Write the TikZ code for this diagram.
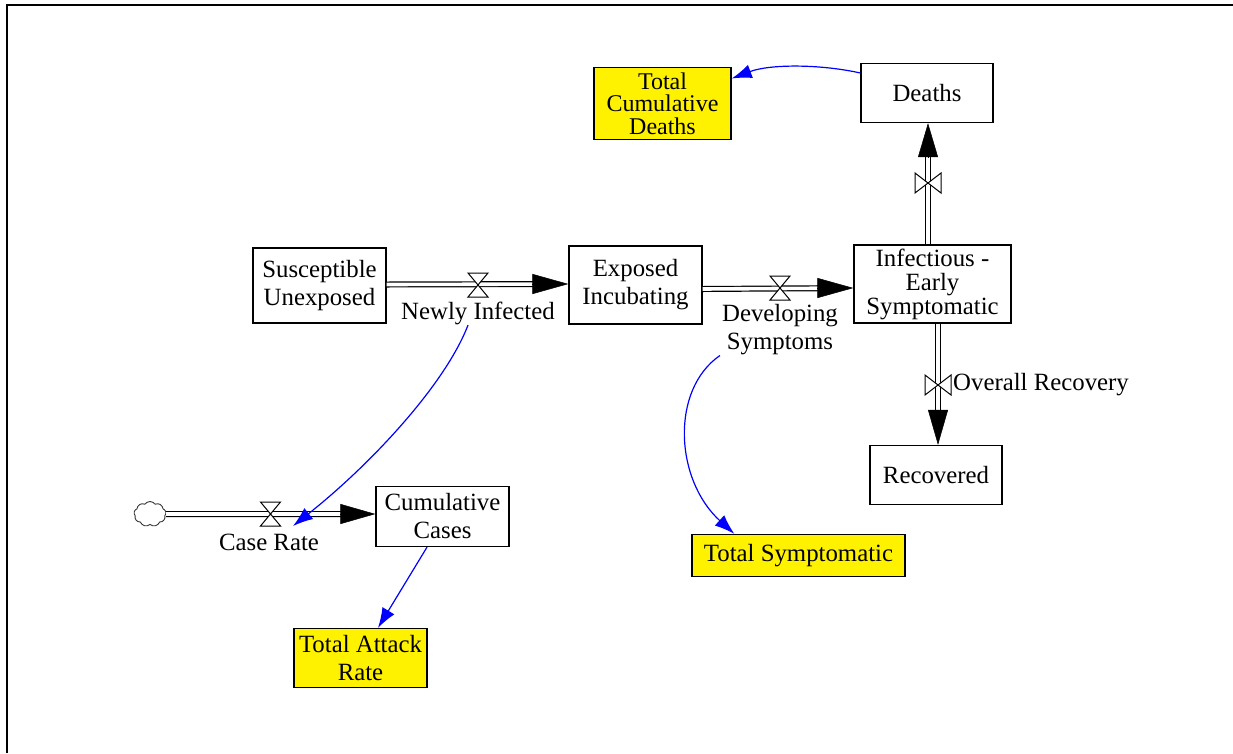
\documentclass[tikz,border=0pt]{standalone}
\usepackage{fontspec}
\setmainfont{Liberation Serif}
\usetikzlibrary{arrows.meta,shapes.symbols}
\begin{document}
\begin{tikzpicture}[x=1pt,y=-1pt,
  box/.style={draw, line width=1.3pt, align=center, inner sep=0pt, fill=white},
  txt/.style={font=\fontsize{24.8}{28}\selectfont},
  tight/.style={font=\fontsize{24.8}{24}\selectfont},
  tighter/.style={font=\fontsize{24}{22.5}\selectfont},
  outbox/.style={box, fill=yellow},
  lbl/.style={txt, inner sep=0pt, align=center},
  pipe/.style={draw, line width=1.2pt, double=white, double distance=3.6pt},
  flowtip/.style={-{Triangle[length=#1,width=20pt]}, line width=0.5pt},
  info/.style={draw=blue, line width=1.2pt, -{Latex[length=20pt,width=14pt]}},
  hvalve/.pic={\draw[fill=white, line width=1pt] (-10,-12) -- (10,-12) -- (-10,12) -- (10,12) -- cycle;},
  vvalve/.pic={\draw[fill=white, line width=1pt] (-13,-10) -- (-13,10) -- (13,-10) -- (13,10) -- cycle;}
]
\useasboundingbox (0,0) rectangle (1233,753);
\draw[line width=2.8pt, line join=miter] (7,753) -- (7,5) -- (1233,5);

% stocks
\node[box, txt, minimum width=133pt, minimum height=75pt] (su) at (319.5,285.5) {Susceptible\\Unexposed};
\node[box, txt, minimum width=133pt, minimum height=78pt] (ex) at (635.5,285) {Exposed\\Incubating};
\node[box, tight, minimum width=157pt, minimum height=78pt] (inf) at (932.5,284) {Infectious -\\Early\\Symptomatic};
\node[box, txt, minimum width=132pt, minimum height=59pt] (de) at (927,93) {Deaths};
\node[box, txt, minimum width=132pt, minimum height=59pt] (rec) at (936,475) {Recovered};
\node[box, txt, minimum width=133pt, minimum height=60pt] (cc) at (442.5,516.5) {Cumulative\\Cases};
\node[outbox, txt, minimum width=133pt, minimum height=59pt] (tar) at (360.5,658) {Total Attack\\Rate};
\node[outbox, txt, minimum width=213pt, minimum height=42pt] (ts) at (798.5,555.5) {Total Symptomatic};
\node[outbox, tighter, minimum width=137pt, minimum height=72pt] (tcd) at (662.5,103.5) {Total\\Cumulative\\Deaths};

% source cloud
\node[cloud, cloud puffs=9, cloud puff arc=110, draw=black!80, line width=0.9pt, minimum width=32pt, minimum height=25pt, inner sep=0pt] (src) at (150,514) {};

% pipes
\draw[pipe, shorten >=30pt] ([yshift=1pt]su.east) -- ([yshift=1pt]ex.west);
\draw[flowtip=36pt] ([xshift=-36pt,yshift=1pt]ex.west) -- ([yshift=1pt]ex.west);
\draw[pipe, shorten >=30pt] ([yshift=-4pt]ex.east) -- ([yshift=-4pt]inf.west);
\draw[flowtip=36pt] ([xshift=-36pt,yshift=-4pt]inf.west) -- ([yshift=-4pt]inf.west);
\draw[pipe, shorten >=30pt] ([xshift=-4.5pt]inf.north) -- ([xshift=1pt]de.south);
\draw[flowtip=34pt] ([xshift=1pt,yshift=-34pt]de.south) -- ([xshift=1pt]de.south);
\draw[pipe, shorten >=30pt] ([xshift=5.5pt]inf.south) -- ([xshift=2pt]rec.north);
\draw[flowtip=35pt] ([xshift=2pt,yshift=35pt]rec.north) -- ([xshift=2pt]rec.north);
\draw[pipe, shorten >=30pt] (src.east) -- ([yshift=2.5pt]cc.west);
\draw[flowtip=35pt] ([xshift=-35pt,yshift=2.5pt]cc.west) -- ([yshift=2.5pt]cc.west);

% valves
\pic at (478,285) {hvalve};
\pic at (780,288) {hvalve};
\pic at (928,183) {vvalve};
\pic at (938,385) {vvalve};
\pic at (270.5,514) {hvalve};

% flow labels
\node[lbl] (nil) at (478,313.5) {Newly Infected};
\node[lbl] (dsl) at (780,330) {Developing\\Symptoms};
\node[lbl] (crl) at (269,542.5) {Case Rate};
\node[lbl, anchor=west] (orl) at (953,384.5) {Overall Recovery};

% information links
\coordinate (crv) at (293,526);
\draw[info] ([xshift=-10pt]nil.south) .. controls (445,385) and (370,465) .. (crv);
\draw[info] ([xshift=-2pt]dsl.south west) .. controls (670,390) and (675,480) .. ([xshift=43pt]ts.north west);
\draw[info] ([xshift=-15.5pt]cc.south) -- ([xshift=17.5pt]tar.north);
\draw[info] ([yshift=20pt]de.west) .. controls (820,64) and (770,64) .. ([yshift=25pt]tcd.east);
\end{tikzpicture}
\end{document}
